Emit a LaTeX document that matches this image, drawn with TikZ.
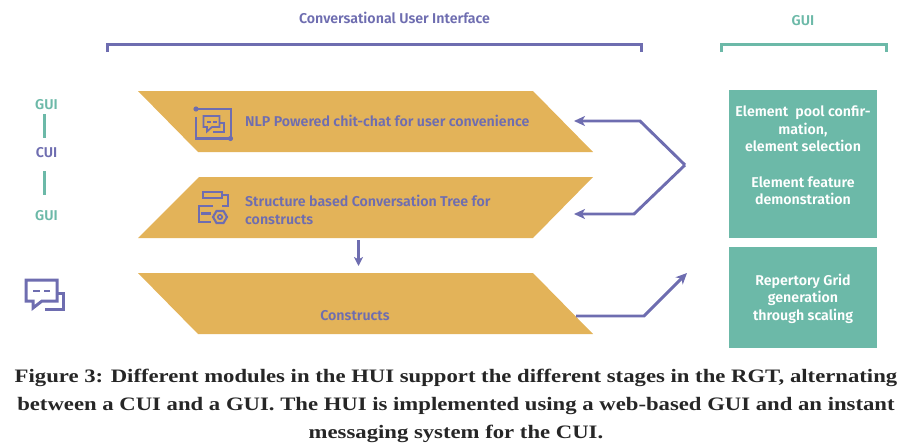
\documentclass[tikz,border=0pt]{standalone}
\usepackage{fontspec}
\setmainfont{Liberation Serif}
\newfontfamily\capfont[FakeStretch=1.195]{Liberation Serif}
\newfontfamily\uifont{Fira Sans}[UprightFont=* SemiBold,BoldFont=* SemiBold]
\usetikzlibrary{arrows.meta,shapes.geometric}
\definecolor{gold}{HTML}{E3B359}
\definecolor{tealc}{HTML}{6CB9A8}
\definecolor{purp}{HTML}{6E6DB0}
\tikzset{
  x=1pt,y=-1pt,
  band/.style={fill=gold,draw=none},
  bandlabel/.style={font=\uifont\fontsize{14.2}{18}\selectfont,text=purp,align=left,anchor=west,inner sep=0pt},
  boxlabel/.style={font=\uifont\fontsize{14.2}{17.6}\selectfont,text=white,align=center,inner sep=0pt},
  tealbox/.style={fill=tealc,draw=none},
  heading/.style={font=\uifont\fontsize{14.2}{17}\selectfont,inner sep=0pt},
  flow/.style={draw=purp,line width=2.9pt,line join=miter,-{Stealth[length=11pt,width=10pt,inset=3pt]}},
  brace/.style={line width=3pt,line join=miter},
  icon/.style={draw=purp,line width=2.1pt,line join=miter},
  sidebar/.style={draw=tealc,line width=3.6pt},
  caption/.style={font=\capfont\bfseries\fontsize{19}{28}\selectfont,text={black!85},align=center,inner sep=0pt}
}
\begin{document}
\begin{tikzpicture}
\useasboundingbox (0,0) rectangle (903,447);
% headings
\node[heading,text=purp] (cuihead) at (394.5,17.5) {Conversational User Interface};
\node[heading,text=tealc] (guihead) at (803,20.5) {GUI};
\draw[brace,draw=purp] (107,52) -- (107,44) -- (641,44) -- (641,52);
\draw[brace,draw=tealc] (721,52) -- (721,44) -- (886,44) -- (886,52);
% bands
\fill[band] (138,91) -- (533,91) -- (593,152) -- (198,152) -- cycle;
\fill[band] (199,177) -- (593,177) -- (533,238) -- (138,238) -- cycle;
\fill[band] (138,273) -- (533,273) -- (593,334) -- (198,334) -- cycle;
\node[bandlabel] (nlp) at (245,121) {NLP Powered chit-chat for user convenience};
\node[bandlabel] (tree) at (245,210) {Structure based Conversation Tree for\\constructs};
\node[bandlabel,anchor=center] (constructs) at (355,315.5) {Constructs};
% left column
\node[heading,text=tealc] (g1) at (46.5,104.5) {GUI};
\node[heading,text=purp] (c1) at (46.5,152.5) {CUI};
\node[heading,text=tealc] (g2) at (46.5,215.5) {GUI};
\coordinate (s1a) at (44.5,114); \coordinate (s1b) at (44.5,138);
\coordinate (s2a) at (44.5,171); \coordinate (s2b) at (44.5,195);
\draw[sidebar] (s1a) -- (s1b);
\draw[sidebar] (s2a) -- (s2b);
% boxes
\fill[tealbox] (729,90) rectangle (877,238);
\fill[tealbox] (729,247) rectangle (877,348);
\node[boxlabel] (b1) at (803,155.5) {Element\hspace{0.5em}pool confir-\\mation,\\element selection\\[17.6pt]Element feature\\demonstration};
\node[boxlabel] (b2) at (803,298.5) {Repertory Grid\\generation\\through scaling};
% connectors
\coordinate (apex) at (685,165);
\coordinate (upbend) at (640,121); \coordinate (uptip) at (574,121);
\coordinate (lowbend) at (634,214); \coordinate (lowtip) at (574,214);
\coordinate (outstart) at (576,316); \coordinate (outbend) at (644,316); \coordinate (outtip) at (687,273);
\coordinate (downa) at (358.5,240); \coordinate (downb) at (358.5,266);
\draw[flow] (apex) -- (upbend) -- (uptip);
\draw[flow] (apex) -- (lowbend) -- (lowtip);
\draw[flow] (outstart) -- (outbend) -- (outtip);
\draw[flow,-{Stealth[length=9pt,width=9pt,inset=2.5pt]}] (downa) -- (downb);
% icon 1 : frame with chat
\draw[icon] (196,109) -- (231,109) -- (231,138);
\draw[icon] (196,117) -- (196,138.5) -- (230,138.5);
\fill[purp] (196,109) circle (2.6);
\fill[purp] (230.5,138.5) circle (2.6);
\draw[icon,line width=1.7pt] (203.5,116) -- (219.5,116) -- (219.5,127) -- (212,127) -- (207,131.5) -- (207,127) -- (203.5,127) -- cycle;
\draw[icon,line width=1.7pt] (219.5,123) -- (224,123) -- (224,132) -- (213,132);
\fill[purp] (207,121) rectangle (210.5,123);
\fill[purp] (213,121) rectangle (216.5,123);
% icon 2 : structure and gear
\draw[icon] (203,192) rectangle (222,198);
\draw[icon] (222,195) -- (228,195) -- (228,206) -- (222,206);
\draw[icon] (213,206) -- (199,206) -- (199,222) -- (211,222);
\draw[icon] (201,213.5) -- (211,213.5);
\draw[icon] (216.5,211) -- (223.5,211) -- (227,217) -- (223.5,223) -- (216.5,223) -- (213,217) -- cycle;
\draw[icon,line width=1.7pt] (220,217) circle (2.2);
% large chat icon
\draw[icon,line width=3pt] (26,280) -- (57,280) -- (57,301) -- (42,301) -- (33,308) -- (33,301) -- (26,301) -- cycle;
\draw[icon,line width=3pt] (57,293) -- (63.5,293) -- (63.5,309.5) -- (45,309.5);
\fill[purp] (33,289.6) rectangle (39.5,292.4);
\fill[purp] (43.5,289.6) rectangle (49.5,292.4);
% caption
\node[caption] (cap) at (456,406) {Figure 3: Different modules in the HUI support the different stages in the RGT, alternating\\between a CUI and a GUI. The HUI is implemented using a web-based GUI and an instant\\messaging system for the CUI.};
\end{tikzpicture}
\end{document}
